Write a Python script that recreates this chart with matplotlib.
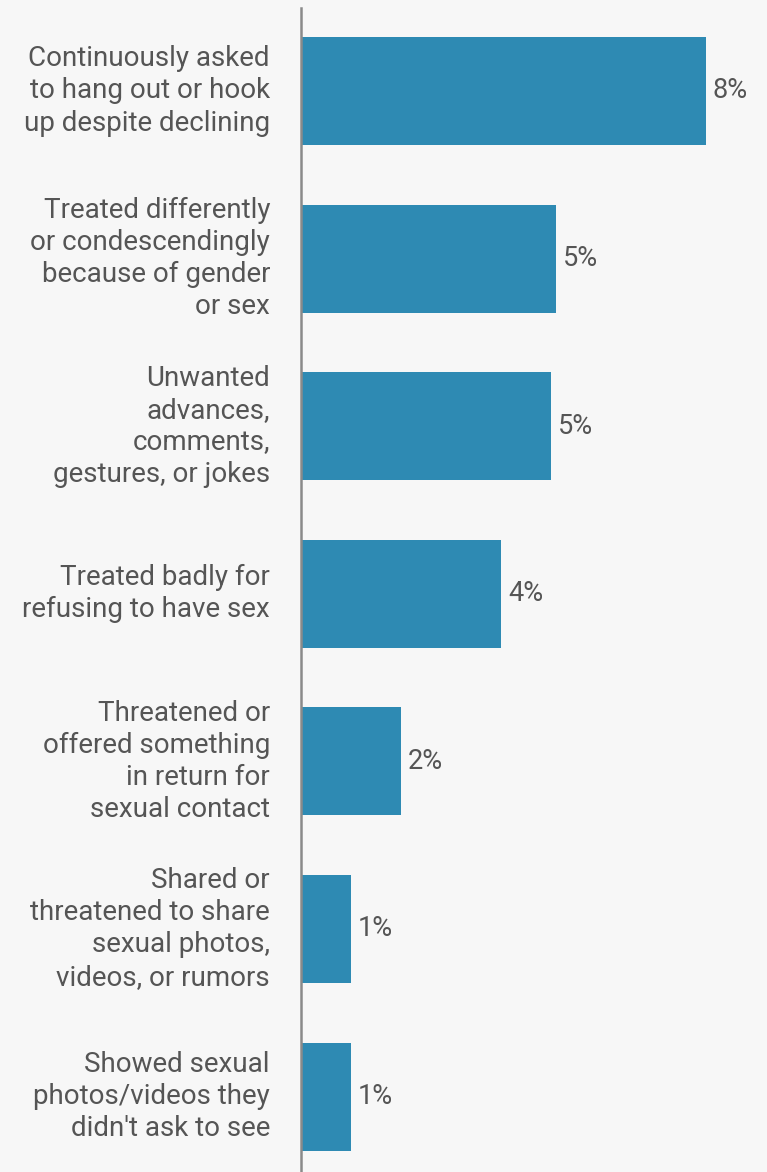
import numpy as np
from matplotlib import pyplot as plt

categories = [
    "Continuously asked\nto hang out or hook\nup despite declining",
    "Treated differently\nor condescendingly\nbecause of gender\nor sex",
    "Unwanted\nadvances,\ncomments,\ngestures, or jokes",
    "Treated badly for\nrefusing to have sex",
    "Threatened or\noffered something\nin return for\nsexual contact",
    "Shared or\nthreatened to share\nsexual photos,\nvideos, or rumors",
    "Showed sexual\nphotos/videos they\ndidn't ask to see",
]
values = [8.1, 5.1, 5.0, 4.0, 2.0, 1.0, 1.0]

BG = "#f7f7f7"
BAR = "#2e8ab3"
TEXT = "#555555"

plt.rcParams["font.family"] = ["Roboto", "DejaVu Sans"]

W, H = 767, 1172
fig = plt.figure(figsize=(W / 100, H / 100), dpi=100, facecolor=BG)
# axes start at the baseline line, run to the right edge
ax = fig.add_axes([301 / W, 0, 466 / W, (H - 8) / H])
ax.set_facecolor(BG)

y = np.arange(len(values))
ax.barh(y, values, height=0.645, color=BAR)

ax.set_xlim(0, 466 / 50)
ax.set_ylim(6.45, -0.495)

for yi, v in zip(y, values):
    ax.text(v + 7 / 50, yi, f"{v:.0f}%", va="center", ha="left",
            fontsize=19.5, color=TEXT)

for yi, lab in zip(y, categories):
    ax.text(-31 / 50, yi, lab, va="center", ha="right", fontsize=20,
            color=TEXT, linespacing=1.24, clip_on=False)

for side in ["top", "right", "bottom"]:
    ax.spines[side].set_visible(False)
ax.spines["left"].set_color("#8a8a8a")
ax.spines["left"].set_linewidth(1.8)
ax.set_xticks([])
ax.set_yticks([])

fig.savefig("out.png", dpi=100, facecolor=BG)
